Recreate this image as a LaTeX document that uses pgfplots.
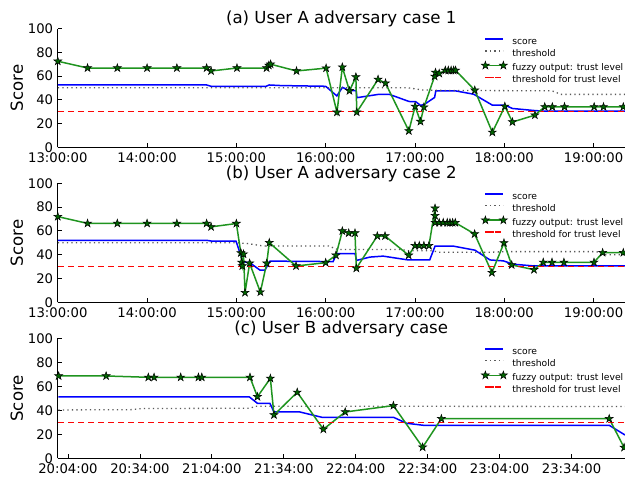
\documentclass[border=0pt]{standalone}
\usepackage{fontspec}
\setmainfont{DejaVu Sans}
\usepackage{pgfplots}
\pgfplotsset{compat=1.18}

\definecolor{scoreblue}{rgb}{0,0,1}
\definecolor{scoreblueL}{rgb}{0.01,0.01,0.99}
\definecolor{fuzzgreen}{rgb}{0.12,0.58,0.12}
\definecolor{fuzzgreenL}{rgb}{0.13,0.57,0.13}
\definecolor{starfill}{rgb}{0,0.4,0}
\definecolor{starfillL}{rgb}{0.01,0.41,0.01}
\definecolor{thrgray}{rgb}{0.35,0.35,0.35}
\definecolor{thrgrayL}{rgb}{0.36,0.36,0.36}
\definecolor{trustred}{rgb}{0.99,0.02,0.02}
\definecolor{trustredL}{rgb}{0.98,0.03,0.03}

% filled five-point star, like matplotlib's '*'
\pgfdeclareplotmark{fstar}{%
  \pgfpathmoveto{\pgfpointpolar{90}{\pgfplotmarksize}}%
  \pgfpathlineto{\pgfpointpolar{126}{0.382\pgfplotmarksize}}%
  \pgfpathlineto{\pgfpointpolar{162}{\pgfplotmarksize}}%
  \pgfpathlineto{\pgfpointpolar{198}{0.382\pgfplotmarksize}}%
  \pgfpathlineto{\pgfpointpolar{234}{\pgfplotmarksize}}%
  \pgfpathlineto{\pgfpointpolar{270}{0.382\pgfplotmarksize}}%
  \pgfpathlineto{\pgfpointpolar{306}{\pgfplotmarksize}}%
  \pgfpathlineto{\pgfpointpolar{342}{0.382\pgfplotmarksize}}%
  \pgfpathlineto{\pgfpointpolar{18}{\pgfplotmarksize}}%
  \pgfpathlineto{\pgfpointpolar{54}{0.382\pgfplotmarksize}}%
  \pgfpathclose
  \pgfusepathqfillstroke
}

\pgfplotsset{
  panel/.style={
    scale only axis, width=567pt,
    axis lines*=left, axis line style={-, line width=0.9pt},
    tick align=inside, major tick length=4pt,
    tick style={draw=black, line width=0.8pt},
    ymin=0, ymax=100, ytick={0,20,...,100},
    /pgf/number format/assume math mode=true,
    ticklabel style={font=\fontsize{13.2}{14}\selectfont},
    xticklabel style={anchor=base, yshift=-15pt},
    yticklabel style={anchor=east, inner sep=0pt, xshift=-4.5pt},
    ylabel={Score},
    every axis y label/.style={at={(axis description cs:-0.0617,0.5)},
      rotate=90, anchor=base, font=\fontsize{16.6}{18}\selectfont},
    every axis title/.style={at={(0.5,1)}, anchor=base, yshift=5pt,
      font=\fontsize{16.6}{18}\selectfont},
    legend style={draw=none, fill=none, at={(0.7414,0.9419)},
      anchor=north west, font=\fontsize{9.2}{11}\selectfont,
      nodes={inner sep=0pt, text height=7pt, text depth=2pt},
      row sep=2.8pt, column sep=5pt},
    legend cell align=left,
  },
  sc/.style={color=scoreblue, line width=1.5pt, mark=none,
    legend image code/.code={%
      \draw[color=scoreblueL, line width=1.5pt] (0pt,3pt) -- (18pt,3pt);}},
  th/.style={color=thrgray, line width=1.3pt, dash pattern=on 1.3pt off 3.2pt, mark=none,
    legend image code/.code={%
      \draw[color=thrgrayL, line width=1.3pt, dash pattern=on 1.3pt off 3.2pt]
        (0pt,3pt) -- (18pt,3pt);}},
  fz/.style={color=fuzzgreen, line width=1.5pt, mark=fstar, mark size=4.2pt,
    mark options={solid, fill=starfill, draw=black, line width=0.5pt},
    legend image code/.code={%
      \draw[color=fuzzgreenL, line width=1.5pt] (0pt,3pt) -- (18pt,3pt);
      \draw[fill=starfillL, draw=black, line width=0.5pt]
        plot[mark=fstar, mark size=4.2pt, only marks] coordinates {(0pt,3pt) (18pt,3pt)};}},
  tt/.style={color=trustred, line width=1.5pt, dash pattern=on 6pt off 4pt, mark=none,
    legend image code/.code={%
      \draw[color=trustredL, line width=1.5pt] (3pt,3pt) -- (12pt,3pt);
      \path (0pt,3pt) -- (18pt,3pt);}},
}

\begin{document}
\begin{tikzpicture}
\useasboundingbox (0pt,0pt) rectangle (625pt,477pt);

% (a) minutes after 13:00
\begin{axis}[panel, at={(57.8pt,329.7pt)}, anchor=south west, height=118.7pt,
  xmin=0, xmax=381, xtick={0,60,...,360},
  xticklabels={13:00:00,14:00:00,15:00:00,16:00:00,17:00:00,18:00:00,19:00:00},
  title={(a) User A adversary case 1}]
\addlegendimage{sc}
\addlegendimage{th}
\addlegendimage{fz}
\addlegendimage{tt}
\addplot[sc, forget plot] coordinates {
  (0,52.5) (100,52.5) (103,51.4) (140,51.4) (142,52.5) (150,52) (180,51.4)
  (187.5,43.3) (191.3,50.5) (196,47.7) (200.5,47.7) (201,41.8) (215,44.5)
  (223,44.5) (236,38.6) (240.5,38.4) (243.8,35.3) (246.5,36.3) (253.2,42)
  (254,47.6) (267,47.6) (279.5,44.7) (292,35.5) (300.5,35.5) (305.5,32.7)
  (320,31) (327,30.4) (381,30.4)};
\addplot[th, forget plot] coordinates {
  (0,50.2) (235,50.2) (245,48.3) (260,47.9) (332,47.6) (338,44.6) (381,44.6)};
\addplot[tt, forget plot] coordinates {(0,30) (381,30)};
\addplot[fz, forget plot] coordinates {
  (0,72.5) (20,66.8) (40,66.8) (60,66.8) (80,66.8) (100,66.8) (103,64.3)
  (120.4,66.8) (140.3,66.8) (141.8,69) (143,70) (160.4,64.3) (180.3,66.7)
  (187.6,29.5) (191.2,67.5) (196,47.6) (200.3,59.2) (200.9,29.6) (215.2,57.2)
  (220.2,54) (235.9,13.8) (240.1,34.5) (243.7,21.7) (246,33.8) (253.2,59.8)
  (253.8,63) (256.3,62.2) (260.4,64.8) (262.4,64.8) (264.3,64.8) (266,64.8)
  (267.3,64.8) (280.2,48.1) (292,12.6) (300.4,34.5) (305.5,21.3) (320.6,27.1)
  (327.2,34.1) (332.3,34.1) (340.5,34.1) (360.4,34.1) (366.7,34.1) (380,34.1)};
\legend{score,threshold,fuzzy output: trust level,threshold for trust level}
\end{axis}

% (b) minutes after 13:00
\begin{axis}[panel, at={(57.8pt,174.7pt)}, anchor=south west, height=119pt,
  xmin=0, xmax=381, xtick={0,60,...,360},
  xticklabels={13:00:00,14:00:00,15:00:00,16:00:00,17:00:00,18:00:00,19:00:00},
  title={(b) User A adversary case 2}]
\addplot[sc] coordinates {
  (0,52.1) (100,52.1) (103,51.5) (119.7,51.5) (122.4,41.7) (124.3,34) (129,33.3)
  (135.9,27) (139.2,27) (142.6,34.6) (185,34.2) (187.4,41) (199.7,41)
  (200.8,35.2) (209.8,38) (218.6,38.8) (235.4,35.6) (249.9,35.6) (253.5,47.2)
  (265.8,47.2) (280.3,43.8) (290.4,35.6) (299.4,34.8) (306,32) (319.5,30.6)
  (381,30.6)};
\addplot[th] coordinates {
  (0,50.1) (120,50.1) (128,49.3) (138,47.3) (182,47.3) (188,44.4) (230,44.4)
  (236,43.3) (252,43.3) (256,42) (290,42) (300,42.6) (362,42.6) (367,40) (381,40)};
\addplot[fz] coordinates {
  (0,72) (20,66.3) (40,66.3) (60,66.3) (80,66.3) (100,66.3) (103,63.4) (120,66.2)
  (123,41.5) (123.5,33.5) (124,30.5) (124.8,40.5) (125.8,8.1) (128.9,32.8)
  (136.1,8.6) (140.4,32.8) (142.1,50.1) (160.1,30.5) (180,33.3) (186.9,39.5)
  (191.2,59.9) (195.5,58.2) (199.7,58.2) (200.6,28.6) (214.7,55.7) (219.9,55.7)
  (235.8,39.5) (240,47.6) (242.9,47.6) (246,47.6) (249.4,47.6) (253.5,79)
  (253.5,72.8) (253.6,66.9) (256.3,66.9) (259,66.9) (261.7,66.9) (263.5,66.9)
  (265.3,66.9) (267.1,66.9) (280.1,57.4) (291.7,24.9) (299.8,49.9) (305,31.4)
  (320,27.4) (326.2,33.6) (332.1,33.6) (340.1,33.6) (360.3,33.6) (366.1,41.7)
  (380,41.7)};
\addplot[tt] coordinates {(0,30) (381,30)};
\legend{score,threshold,fuzzy output: trust level,threshold for trust level}
\end{axis}

% (c) minutes after 20:00
\begin{axis}[panel, at={(57.8pt,18.7pt)}, anchor=south west, height=120pt,
  xmin=-0.25, xmax=236.2, xtick={4,34,64,94,124,154,184,214},
  xticklabels={20:04:00,20:34:00,21:04:00,21:34:00,22:04:00,22:34:00,23:04:00,23:34:00},
  title={(c) User B adversary case}]
\addplot[sc] coordinates {
  (0,51.2) (79.6,51.2) (83,45.8) (88.2,45.8) (89.9,38.6) (100.7,38.6)
  (109.8,34.2) (139.7,34.2) (145.2,29.2) (152.2,27.5) (229.7,27.5) (236.3,19.4)};
\addplot[th] coordinates {
  (0,40.3) (30,40.5) (35,41.5) (80,41.7) (82,43.4) (236.3,43.2)};
\addplot[fz] coordinates {
  (0.1,68.6) (19.9,68.6) (37.5,67.5) (39.9,67.5) (51,67.5) (58.4,67.5)
  (59.8,67.5) (79.9,67.5) (83,51.3) (88.4,66.6) (89.9,36.1) (99.6,55)
  (110.5,24.2) (119.6,38.6) (139.7,43.9) (151.9,9.2) (159.7,33) (229.7,33)
  (235.9,9)};
\addplot[tt] coordinates {(0,30) (236.3,30)};
\legend{score,threshold,fuzzy output: trust level,threshold for trust level}
\end{axis}
\end{tikzpicture}
\end{document}
